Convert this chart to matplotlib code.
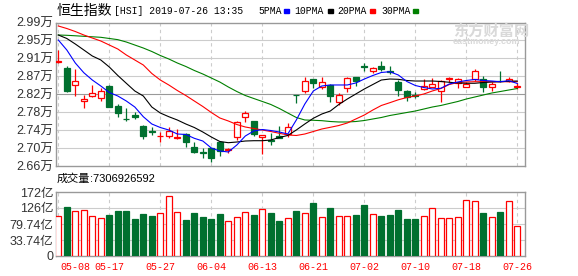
import matplotlib
matplotlib.use("Agg")
import matplotlib.pyplot as plt
import matplotlib.transforms as mtransforms

plt.rcParams['font.family'] = ['Liberation Sans', 'Noto Sans CJK SC']

# trading days shown (HSI, 2019)
dates = ["05-08", "05-09", "05-10", "05-14", "05-15", "05-16", "05-17", "05-20", "05-21", "05-22",
         "05-23", "05-24", "05-27", "05-28", "05-29", "05-30", "05-31", "06-03", "06-04", "06-05",
         "06-06", "06-10", "06-11", "06-12", "06-13", "06-14", "06-17", "06-18", "06-19", "06-20",
         "06-21", "06-24", "06-25", "06-26", "06-27", "06-28", "07-02", "07-03", "07-04", "07-05",
         "07-08", "07-09", "07-10", "07-11", "07-12", "07-15", "07-16", "07-17", "07-18", "07-19",
         "07-22", "07-23", "07-24", "07-25", "07-26"]

opens = [29000, 28844, 28467, 28094, 28201, 28155, 28438, 27978, 27690, 27778,
         27519, 27395, 27290, 27296, 27250, 27328, 27036, 26915, 27020, 27144,
         26975, 27259, 27719, 27634, 27259, 27190, 27280, 27328, 28240, 28330,
         28598, 28421, 28461, 28070, 28385, 28637, 28890, 28780, 28904, 28775,
         28536, 28323, 28225, 28376, 28421, 28330, 28605, 28500, 28421, 28598,
         28598, 28408, 28560, 28546, 28420]
highs = [29265, 28897, 28835, 28224, 28454, 28385, 28450, 28024, 27925, 27833,
         27534, 27489, 27388, 27503, 27450, 27351, 27158, 27020, 27020, 27181,
         27020, 27634, 27870, 27634, 27305, 27365, 27519, 27581, 28240, 28637,
         28598, 28637, 28484, 28284, 28637, 28645, 28959, 28881, 29019, 28897,
         28575, 28346, 28293, 28591, 28614, 28575, 28652, 28614, 28523, 28828,
         28674, 28536, 28789, 28637, 28500]
lows = [28960, 28293, 28215, 27939, 28190, 28086, 27950, 27719, 27634, 27673,
        27213, 27312, 27144, 27250, 27213, 27043, 26892, 26777, 26699, 26837,
        26890, 27197, 27604, 27289, 26869, 27082, 27236, 27259, 28040, 28270,
        28385, 28369, 28077, 28001, 28307, 28444, 28789, 28729, 28789, 28713,
        28208, 28093, 28155, 28346, 28410, 28077, 28537, 28399, 28421, 28559,
        28307, 28323, 28523, 28523, 28362]
closes = [29012, 28330, 28546, 28132, 28270, 28316, 27962, 27811, 27673, 27726,
          27296, 27381, 27296, 27397, 27259, 27158, 26928, 26905, 26791, 26945,
          26984, 27604, 27811, 27345, 27305, 27175, 27250, 27503, 28225, 28552,
          28500, 28523, 28208, 28224, 28614, 28559, 28875, 28844, 28821, 28766,
          28346, 28178, 28215, 28438, 28477, 28552, 28614, 28591, 28477, 28782,
          28408, 28484, 28545, 28591, 28440]

ma5 = [29494, 29265, 28966, 28743, 28575, 28438, 28288, 28208, 28093, 27955,
       27732, 27565, 27484, 27427, 27335, 27324, 27236, 27174, 27013, 26945,
       26922, 27082, 27289, 27404, 27438, 27415, 27381, 27335, 27657, 28024,
       28323, 28438, 28461, 28461, 28461, 28507, 28598, 28679, 28748, 28766,
       28690, 28541, 28449, 28403, 28369, 28385, 28484, 28530, 28564, 28587,
       28564, 28552, 28536, 28559, 28495]
ma10 = [29609, 29529, 29402, 29265, 29127, 29035, 28874, 28679, 28500, 28323,
        28208, 27955, 27817, 27732, 27657, 27565, 27484, 27381, 27266, 27163,
        27135, 27151, 27174, 27181, 27181, 27197, 27255, 27301, 27427, 27565,
        27696, 27794, 27863, 28013, 28139, 28254, 28369, 28472, 28575, 28598,
        28591, 28564, 28552, 28552, 28552, 28541, 28523, 28507, 28500, 28500,
        28518, 28530, 28536, 28546, 28552]
ma20 = [29816, 29758, 29689, 29609, 29540, 29471, 29379, 29287, 29150, 29035,
        28920, 28725, 28575, 28461, 28334, 28219, 28093, 27967, 27829, 27703,
        27634, 27553, 27496, 27461, 27427, 27392, 27351, 27312, 27301, 27335,
        27392, 27450, 27489, 27530, 27588, 27680, 27771, 27886, 27990, 28054,
        28121, 28173, 28208, 28254, 28323, 28380, 28472, 28518, 28530, 28536,
        28536, 28536, 28536, 28536, 28536]
ma30 = [29609, 29602, 29591, 29579, 29568, 29556, 29529, 29502, 29448, 29379,
        29310, 29230, 29138, 29058, 28966, 28886, 28794, 28713, 28621, 28529,
        28415, 28311, 28219, 28150, 28082, 28013, 27921, 27817, 27714, 27657,
        27650, 27641, 27622, 27611, 27611, 27622, 27645, 27680, 27714, 27760,
        27794, 27829, 27863, 27909, 27955, 27990, 28036, 28082, 28139, 28185,
        28231, 28277, 28311, 28346, 28380]

# volume in 亿
volumes = [103, 128.9, 117.4, 120.3, 103, 97.3, 105.9, 117.4, 117.4, 94.4,
           108.8, 103, 111.6, 160.5, 114.5, 91.5, 111.6, 100.1, 94.4, 108.8,
           88.6, 100.1, 114.5, 105.9, 123.1, 111.6, 88.6, 97.3, 117.4, 111.6,
           140.4, 100.1, 126, 103, 103, 105.9, 134.6, 108.8, 103, 105.9,
           120.3, 94.4, 94.4, 103, 126, 97.3, 97.3, 100.1, 149, 146.1,
           111.6, 100.1, 114.5, 146.1, 73.07]

price_lo = 26600
price_step = 412
vol_ticks = [33.74, 79.74, 126, 172]
total_vol = "7306926592"

RED = "#ff0000"
GREEN = "#00702f"
GRID = "#cccccc"
FRAME = "#999999"

fig = plt.figure(figsize=(5.78, 2.76), dpi=100)
W, H = 578, 276
def box(l, t, r, b):
    return [l / W, 1 - b / H, (r - l) / W, (b - t) / H]

ax = fig.add_axes(box(56, 22.5, 525, 166))
axv = fig.add_axes(box(56, 192, 525, 256))

n = len(dates)
xs = list(range(n))
xlim = (-0.27, n - 1 + 0.9)
label_idx = list(range(0, n, 6))

# ---- price panel
pticks = [price_lo + k * price_step for k in range(9)]
ax.set_xlim(*xlim)
ax.set_ylim(pticks[0], pticks[-1])
for k, v in enumerate(pticks[1:-1], 1):
    ax.axhline(v, color=FRAME if k == 4 else GRID, lw=0.8, zorder=0)
for i in label_idx:
    ax.axvline(i, color=GRID, lw=0.8, ls=(0, (3, 3)), zorder=0)

for i in xs:
    o, h, l, c = opens[i], highs[i], lows[i], closes[i]
    up = c >= o
    col = RED if up else GREEN
    ax.vlines(i, l, h, color=col, lw=0.9, zorder=2)
    ax.bar(i, max(abs(c - o), 1), bottom=min(o, c), width=0.7,
           facecolor="white" if up else col, edgecolor=col, lw=0.9, zorder=3)

ax.plot(xs, ma30, color="#008000", lw=0.8, zorder=4)
ax.plot(xs, ma20, color=RED, lw=0.8, zorder=4)
ax.plot(xs, ma10, color="black", lw=0.8, zorder=4)
ax.plot(xs, ma5, color="#0000ff", lw=0.8, zorder=4)

ax.set_yticks(pticks)
ax.set_yticklabels([f"{v / 10000:.2f}万" for v in pticks], fontsize=9, color="#333333")
ax.set_xticks([])
ax.tick_params(axis="y", length=0, pad=2)

# ---- volume panel
vmin = vol_ticks[0] - (vol_ticks[1] - vol_ticks[0])
axv.set_xlim(*xlim)
axv.set_ylim(vmin, vol_ticks[-1])
for v in vol_ticks[:-1]:
    axv.axhline(v, color=GRID, lw=0.8, zorder=0)
for i in label_idx:
    axv.axvline(i, color=GRID, lw=0.8, ls=(0, (3, 3)), zorder=0)
for i in xs:
    up = closes[i] >= opens[i]
    col = RED if up else GREEN
    axv.bar(i, volumes[i] - vmin, bottom=vmin, width=0.68,
            facecolor="white" if up else col, edgecolor=col, lw=0.9, zorder=3)
axv.set_yticks([vmin] + vol_ticks)
axv.set_yticklabels(["0"] + [f"{v:g}亿" for v in vol_ticks], fontsize=9, color="#333333")
axv.set_xticks([])
axv.tick_params(axis="y", length=0, pad=2)

for a in (ax, axv):
    for s in a.spines.values():
        s.set_color(FRAME)
        s.set_linewidth(1)

# date labels
trans = mtransforms.blended_transform_factory(axv.transData, fig.transFigure)
for i in label_idx:
    x, ha = (0.2, "left") if i == 0 else (i, "center")
    axv.text(x, 1 - 267 / H, dates[i], transform=trans, ha=ha, va="center",
             color=RED, fontsize=7.2, family="Liberation Mono")

# header texts
def fx(px):
    return px / W
def fy(py):
    return 1 - py / H

fig.text(fx(57), fy(11), "恒生指数", fontsize=10, family="Noto Sans CJK SC", va="center", ha="left")
fig.text(fx(114), fy(11), "[HSI] 2019-07-26 13:35", fontsize=7, family="Liberation Mono",
         va="center", ha="left")
legend_items = [("5PMA", 258, 284, "#0000ff"), ("10PMA", 294, 328, "black"),
                ("20PMA", 337, 370, RED), ("30PMA", 381, 413, "#008000")]
for txt, tx, mx, col in legend_items:
    fig.text(fx(tx), fy(11), txt, fontsize=7, family="Liberation Mono", va="center", ha="left")
    fig.patches.append(plt.Rectangle((fx(mx), fy(12.5)), 5 / W, 3 / H, color=col,
                                     transform=fig.transFigure, figure=fig))

fig.text(fx(57), fy(178.5), "成交量", fontsize=8, family="Noto Sans CJK SC", va="center", ha="left")
fig.text(fx(90), fy(178.5), ":" + total_vol, fontsize=8, family="Liberation Sans",
         va="center", ha="left")

# watermark
fig.text(fx(453), fy(31), "东方财富网", fontsize=11, family="Noto Sans CJK SC",
         color="#d9d9d9", va="center", ha="left", fontweight="bold")
fig.text(fx(453), fy(42), "eastmoney.com", fontsize=6.5, family="Liberation Sans",
         color="#d9d9d9", va="center", ha="left", fontweight="bold")

fig.savefig("out.png", dpi=100)
